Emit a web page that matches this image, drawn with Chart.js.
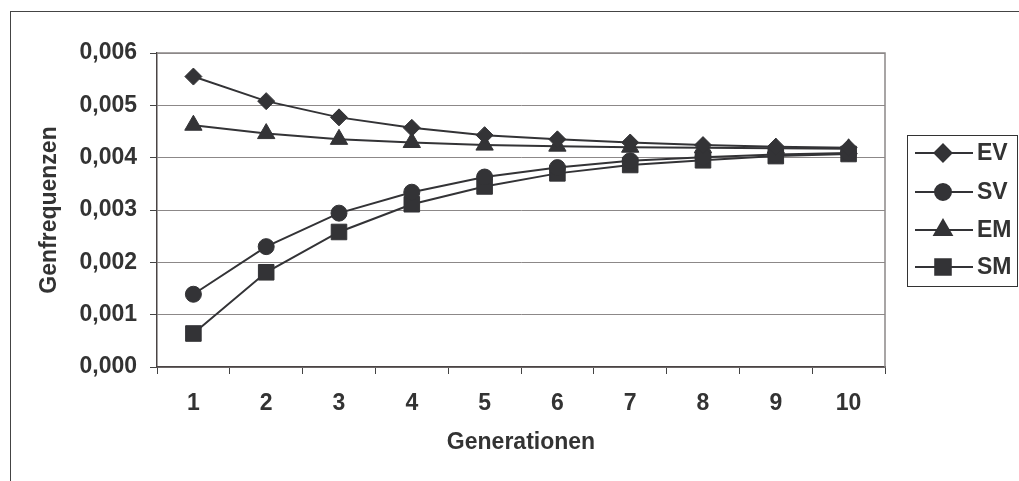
<!DOCTYPE html>
<html>
<head>
<meta charset="utf-8">
<script src="https://cdn.jsdelivr.net/npm/chart.js@4/dist/chart.umd.min.js"></script>
<style>
  html, body { margin: 0; padding: 0; background: #fff; }
  #wrap { width: 1019px; height: 481px; }
</style>
</head>
<body>
<div id="wrap"><canvas id="chart-genfreq" width="1019" height="481"></canvas></div>
<script>
/* ── Daten ─────────────────────────────────────────────── */
const GENERATIONEN = ['1','2','3','4','5','6','7','8','9','10'];
const EV = [0.00555, 0.00508, 0.00477, 0.00457, 0.00443, 0.00435, 0.00429, 0.00424, 0.00421, 0.00419];
const SV = [0.00139, 0.00230, 0.00294, 0.00334, 0.00363, 0.00381, 0.00394, 0.00401, 0.00406, 0.00409];
const EM = [0.00462, 0.00446, 0.00435, 0.00429, 0.00424, 0.00422, 0.00420, 0.00419, 0.00418, 0.00417];
const SM = [0.00064, 0.00181, 0.00258, 0.00311, 0.00345, 0.00370, 0.00386, 0.00395, 0.00403, 0.00407];
const Y_TICKS = { min: 0, max: 0.006, step: 0.001 };

/* ── Stil ──────────────────────────────────────────────── */
const INK   = '#333336';
const TEXT  = '#333333';
const GRID  = '#8c8888';
const FONT  = "'Liberation Sans', Arial, sans-serif";

Chart.defaults.font.family = FONT;
Chart.defaults.color = TEXT;

const serie = (label, data, pointStyle, radius) => ({
  label, data, pointStyle,
  borderColor: INK, backgroundColor: INK,
  pointBackgroundColor: INK, pointBorderColor: INK,
  borderWidth: 2, pointRadius: radius, pointBorderWidth: 1,
  tension: 0, fill: false,
});

/* Rahmen, Plotrand und Legende */
const frame = {
  id: 'frame',
  afterDraw(chart) {
    const { ctx, chartArea: a } = chart;
    ctx.save();
    // äußerer Rahmen
    ctx.strokeStyle = '#444';
    ctx.lineWidth = 1;
    ctx.strokeRect(10.5, 11.5, 1100, 600);
    // Plotrand oben/rechts
    ctx.strokeStyle = GRID;
    ctx.lineWidth = 1.5;
    ctx.beginPath();
    ctx.moveTo(a.left, a.top);
    ctx.lineTo(a.right, a.top);
    ctx.lineTo(a.right, a.bottom);
    ctx.stroke();
    // Legende
    const bx = 907, by = 135, bw = 110, bh = 151;
    ctx.strokeStyle = '#333';
    ctx.lineWidth = 1;
    ctx.strokeRect(bx + 0.5, by + 0.5, bw, bh);
    const ys = [153, 192, 230, 267];
    chart.data.datasets.forEach((ds, i) => {
      const y = ys[i];
      ctx.strokeStyle = INK;
      ctx.lineWidth = 2;
      ctx.beginPath();
      ctx.moveTo(915, y);
      ctx.lineTo(973, y);
      ctx.stroke();
      ctx.fillStyle = INK;
      Chart.helpers.drawPoint(ctx, {
        pointStyle: ds.pointStyle, radius: ds.pointRadius,
        borderWidth: 1, rotation: 0,
      }, 943, y);
      ctx.fill();
      ctx.fillStyle = TEXT;
      ctx.font = 'bold 23px ' + FONT;
      ctx.textBaseline = 'middle';
      ctx.textAlign = 'left';
      ctx.fillText(ds.label, 977, y + 1);
    });
    ctx.restore();
  },
};

new Chart(document.getElementById('chart-genfreq'), {
  type: 'line',
  data: {
    labels: GENERATIONEN,
    datasets: [
      serie('EV', EV, 'rectRot', 8.5),
      serie('SV', SV, 'circle', 8),
      serie('EM', EM, 'triangle', 10),
      serie('SM', SM, 'rect', 11),
    ],
  },
  options: {
    responsive: false, animation: false,
    layout: { padding: { top: 53, right: 134, left: 0, bottom: 0 } },
    plugins: { legend: { display: false }, tooltip: { enabled: false } },
    scales: {
      x: {
        type: 'category', offset: true,
        grid: { offset: true, drawOnChartArea: false, tickLength: 7, tickColor: '#444', tickWidth: 1 },
        border: { color: '#4a4444', width: 1.5 },
        ticks: { padding: 16, maxRotation: 0, font: { size: 23, weight: 'bold' }, color: TEXT },
        title: {
          display: true, text: 'Generationen', color: TEXT,
          font: { size: 23, weight: 'bold' }, padding: { top: 0, bottom: 25 },
        },
        afterFit(s) { s.height = 114; },
      },
      y: {
        min: Y_TICKS.min, max: Y_TICKS.max,
        grid: { color: GRID, lineWidth: 1, tickLength: 7, tickColor: '#444' },
        border: { color: '#4a4444', width: 1.5 },
        ticks: {
          stepSize: Y_TICKS.step, padding: 13,
          font: { size: 23, weight: 'bold' }, color: TEXT,
          callback: v => v.toFixed(3).replace('.', ','),
        },
        title: {
          display: true, text: 'Genfrequenzen', color: TEXT,
          font: { size: 23, weight: 'bold' }, padding: { top: 36, bottom: 0 },
        },
        afterFit(s) { s.width = 157; },
      },
    },
  },
  plugins: [frame],
});
</script>
</body>
</html>
